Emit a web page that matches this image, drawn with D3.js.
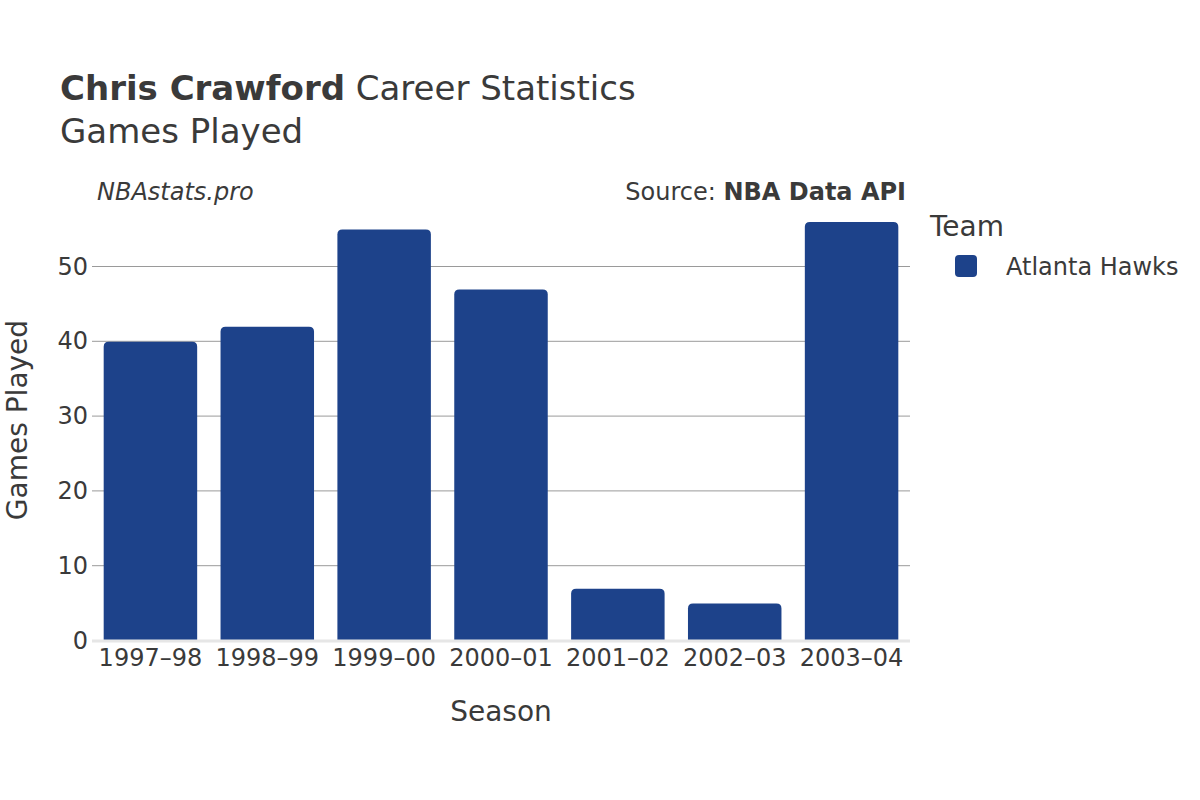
<!DOCTYPE html>
<html><head><meta charset="utf-8">
<script src="https://cdn.jsdelivr.net/npm/d3@7"></script>
<style>body{margin:0;background:#fff;} svg{display:block;font-family:"DejaVu Sans",sans-serif;}</style>
</head><body>
<svg id="chart" width="1200" height="800"></svg>
<script>
const seasons = ["1997–98","1998–99","1999–00","2000–01","2001–02","2002–03","2003–04"];
const gamesPlayed = [40, 42, 55, 47, 7, 5, 56];
const yTicks = [0, 10, 20, 30, 40, 50];
const teamName = "Atlanta Hawks";
const barColor = "#1d428a";
const textColor = "#3a3a3a";

const svg = d3.select("#chart");
const m = {left: 92, right: 910, top: 200, bottom: 640};

const x = d3.scaleBand().domain(seasons).range([m.left, m.right]).paddingInner(0.2).paddingOuter(0.1);
const y = d3.scaleLinear().domain([0, 58.9]).range([m.bottom, m.bottom - 58.9*7.48]);

// gridlines
svg.append("g").selectAll("line").data(yTicks.filter(d=>d>0)).join("line")
  .attr("x1", m.left).attr("x2", m.right)
  .attr("y1", d=>y(d)+0.5).attr("y2", d=>y(d)+0.5)
  .attr("stroke", "#9a9a9a").attr("stroke-width", 1);

// y tick labels
const yAxis = d3.axisLeft(y).tickValues(yTicks).tickSize(0).tickPadding(4);
const gy = svg.append("g").attr("transform", `translate(${m.left},0.5)`).call(yAxis);
gy.select(".domain").remove();
gy.selectAll("text").attr("font-size", 24).attr("fill", textColor).attr("font-family", "DejaVu Sans");

// bars with rounded top
const r = 5;
svg.append("g").selectAll("path").data(seasons).join("path")
  .attr("fill", barColor)
  .attr("d", (s, i) => {
    const x0 = x(s), w = x.bandwidth(), yt = y(gamesPlayed[i]) + 1, yb = y(0);
    const rr = Math.min(r, (yb - yt));
    return `M${x0},${yb} L${x0},${yt+rr} Q${x0},${yt} ${x0+rr},${yt} L${x0+w-rr},${yt} Q${x0+w},${yt} ${x0+w},${yt+rr} L${x0+w},${yb} Z`;
  });

// zero line
svg.append("line").attr("x1", m.left).attr("x2", m.right).attr("y1", y(0)+1).attr("y2", y(0)+1)
  .attr("stroke", "#e6e6e6").attr("stroke-width", 3);

// x axis labels
const xAxis = d3.axisBottom(x).tickSize(0).tickPadding(9);
const gx = svg.append("g").attr("transform", `translate(0,${m.bottom})`).call(xAxis);
gx.select(".domain").remove();
gx.selectAll("text").attr("font-size", 24).attr("fill", textColor).attr("font-family", "DejaVu Sans");

// titles
const t = svg.append("text").attr("x", 60).attr("y", 100).attr("font-size", 34).attr("fill", textColor);
t.append("tspan").attr("font-weight", "bold").text("Chris Crawford");
t.append("tspan").text(" Career Statistics");
svg.append("text").attr("x", 60).attr("y", 143).attr("font-size", 34).attr("fill", textColor).text("Games Played");

svg.append("text").attr("x", 97).attr("y", 200).attr("font-size", 24).attr("font-style", "italic").attr("fill", textColor).text("NBAstats.pro");
const src = svg.append("text").attr("x", 906).attr("y", 200).attr("text-anchor", "end").attr("font-size", 24).attr("fill", textColor);
src.append("tspan").text("Source: ");
src.append("tspan").attr("font-weight", "bold").text("NBA Data API");

// axis titles
svg.append("text").attr("x", 501).attr("y", 721).attr("text-anchor", "middle").attr("font-size", 28).attr("fill", textColor).text("Season");
svg.append("text").attr("transform", "translate(27,420) rotate(-90)").attr("text-anchor", "middle").attr("font-size", 28).attr("fill", textColor).text("Games Played");

// legend
svg.append("text").attr("x", 930).attr("y", 236).attr("font-size", 28).attr("fill", textColor).text("Team");
svg.append("rect").attr("x", 955).attr("y", 255).attr("width", 22).attr("height", 22).attr("rx", 4).attr("fill", barColor);
svg.append("text").attr("x", 1006).attr("y", 275).attr("font-size", 24).attr("fill", textColor).text(teamName);
</script>
</body></html>
